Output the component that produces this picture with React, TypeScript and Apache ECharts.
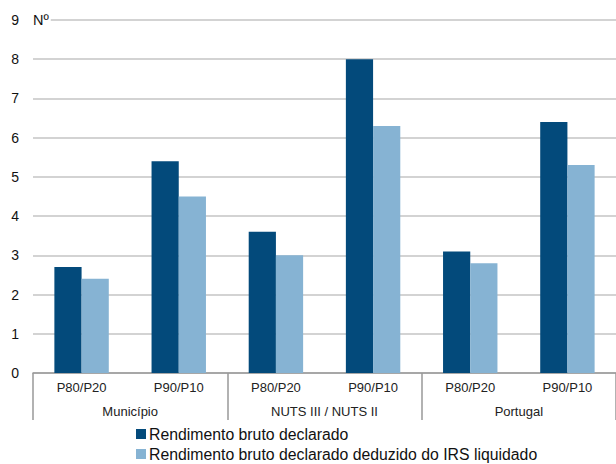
import React, { useEffect, useRef } from "react";
import * as echarts from "echarts";

const subCategories = ["P80/P20", "P90/P10", "P80/P20", "P90/P10", "P80/P20", "P90/P10"];
const groups = ["Município", "NUTS III / NUTS II", "Portugal"];
const seriesNames = ["Rendimento bruto declarado", "Rendimento bruto declarado deduzido do IRS liquidado"];
const bruto = [2.7, 5.4, 3.6, 8.0, 3.1, 6.4];
const liquido = [2.4, 4.5, 3.0, 6.3, 2.8, 5.3];

export default function App() {
  const ref = useRef<HTMLDivElement>(null);
  useEffect(() => {
    document.body.style.margin = "0";
    const chart = echarts.init(ref.current!, null, { renderer: "svg" });
    const font = "'Liberation Sans', Arial, sans-serif";
    chart.setOption({
      animation: false,
      textStyle: { fontFamily: font },
      grid: { left: 33, width: 591, top: 20, bottom: 91, containLabel: false },
      legend: {
        orient: "vertical",
        left: 131,
        top: 421,
        height: 80,
        itemWidth: 10,
        itemHeight: 10,
        itemGap: 4,
        icon: "rect",
        textStyle: { fontSize: 15.8, color: "#111", fontFamily: font, padding: [0, 0, 0, -2] },
        data: seriesNames,
      },
      xAxis: [
        {
          type: "category",
          data: subCategories,
          position: "bottom",
          axisLine: { lineStyle: { color: "#999", width: 1.5 } },
          axisTick: { show: false },
          axisLabel: { margin: 8, fontSize: 13, color: "#222", fontFamily: font, interval: 0 },
        },
        {
          type: "category",
          data: groups,
          position: "bottom",
          axisLine: { show: false },
          axisTick: { show: true, length: 47, interval: 0, lineStyle: { color: "#999", width: 1.5 } },
          axisLabel: { margin: 32, fontSize: 13, color: "#222", fontFamily: font, interval: 0 },
        },
      ],
      yAxis: {
        type: "value",
        min: 0,
        max: 9,
        interval: 1,
        name: "Nº",
        nameLocation: "end",
        nameGap: 0,
        nameTextStyle: {
          align: "left",
          verticalAlign: "middle",
          fontSize: 14.5,
          color: "#111",
          fontFamily: font,
          backgroundColor: "#fff",
          padding: [0, 2, 0, 0],
        },
        axisLine: { show: false },
        axisTick: { show: false },
        axisLabel: { margin: 14, fontSize: 14, color: "#111", fontFamily: font },
        splitLine: { lineStyle: { color: "#c4c4c4", width: 1.5 } },
      },
      series: [
        {
          name: seriesNames[0],
          type: "bar",
          data: bruto,
          xAxisIndex: 0,
          barGap: "0%",
          barCategoryGap: "44%",
          itemStyle: { color: "#034a7b" },
        },
        {
          name: seriesNames[1],
          type: "bar",
          data: liquido,
          xAxisIndex: 0,
          itemStyle: { color: "#86b3d3" },
        },
      ],
    });
    return () => chart.dispose();
  }, []);
  return <div ref={ref} style={{ width: 616, height: 464 }} />;
}
